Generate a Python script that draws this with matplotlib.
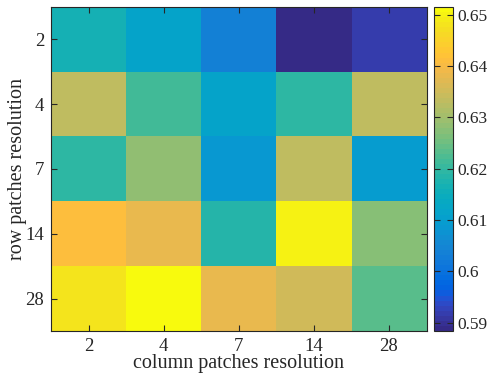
import numpy as np
import matplotlib.pyplot as plt
from matplotlib.colors import ListedColormap, Normalize

# patch resolutions
row_res = ["2", "4", "7", "14", "28"]
col_res = ["2", "4", "7", "14", "28"]

acc_r2 = [0.6165, 0.6116, 0.6037, 0.5884, 0.5919]
acc_r4 = [0.6333, 0.6214, 0.6116, 0.6195, 0.6333]
acc_r7 = [0.6195, 0.6283, 0.6086, 0.6333, 0.6096]
acc_r14 = [0.6412, 0.6382, 0.6185, 0.6500, 0.6269]
acc_r28 = [0.6481, 0.6515, 0.6382, 0.6357, 0.6234]

cbar_ticks = [0.59, 0.60, 0.61, 0.62, 0.63, 0.64, 0.65]
cbar_labels = ["0.59", "0.6", "0.61", "0.62", "0.63", "0.64", "0.65"]

# matlab parula(64)
parula = [
    [0.2081, 0.1663, 0.5292], [0.2116, 0.1898, 0.5777], [0.2123, 0.2138, 0.6270], [0.2081, 0.2386, 0.6771],
    [0.1959, 0.2645, 0.7279], [0.1707, 0.2919, 0.7792], [0.1253, 0.3242, 0.8303], [0.0591, 0.3598, 0.8683],
    [0.0117, 0.3875, 0.8820], [0.0060, 0.4086, 0.8828], [0.0165, 0.4266, 0.8786], [0.0329, 0.4430, 0.8720],
    [0.0498, 0.4586, 0.8641], [0.0629, 0.4737, 0.8554], [0.0723, 0.4887, 0.8467], [0.0779, 0.5040, 0.8384],
    [0.0793, 0.5200, 0.8312], [0.0749, 0.5375, 0.8263], [0.0641, 0.5570, 0.8240], [0.0488, 0.5772, 0.8228],
    [0.0343, 0.5966, 0.8199], [0.0265, 0.6137, 0.8135], [0.0239, 0.6287, 0.8038], [0.0231, 0.6418, 0.7913],
    [0.0228, 0.6535, 0.7768], [0.0267, 0.6642, 0.7607], [0.0384, 0.6743, 0.7436], [0.0590, 0.6838, 0.7254],
    [0.0843, 0.6928, 0.7062], [0.1133, 0.7015, 0.6859], [0.1453, 0.7098, 0.6646], [0.1801, 0.7177, 0.6424],
    [0.2178, 0.7250, 0.6193], [0.2586, 0.7317, 0.5954], [0.3022, 0.7376, 0.5712], [0.3482, 0.7424, 0.5473],
    [0.3953, 0.7459, 0.5244], [0.4420, 0.7481, 0.5033], [0.4871, 0.7491, 0.4840], [0.5300, 0.7491, 0.4661],
    [0.5709, 0.7485, 0.4494], [0.6099, 0.7473, 0.4337], [0.6473, 0.7456, 0.4188], [0.6834, 0.7435, 0.4044],
    [0.7184, 0.7411, 0.3905], [0.7525, 0.7384, 0.3768], [0.7858, 0.7356, 0.3633], [0.8185, 0.7327, 0.3498],
    [0.8507, 0.7299, 0.3360], [0.8824, 0.7274, 0.3217], [0.9139, 0.7258, 0.3063], [0.9450, 0.7261, 0.2886],
    [0.9739, 0.7314, 0.2666], [0.9938, 0.7455, 0.2403], [0.9990, 0.7653, 0.2164], [0.9955, 0.7861, 0.1967],
    [0.9880, 0.8066, 0.1794], [0.9789, 0.8271, 0.1633], [0.9697, 0.8481, 0.1475], [0.9626, 0.8705, 0.1309],
    [0.9589, 0.8949, 0.1132], [0.9598, 0.9218, 0.0948], [0.9661, 0.9514, 0.0755], [0.9763, 0.9831, 0.0538],
]
cmap = ListedColormap(parula)

grid = np.array([acc_r2, acc_r4, acc_r7, acc_r14, acc_r28])
norm = Normalize(vmin=grid.min(), vmax=grid.max())

ink = "#262626"
plt.rcParams["font.family"] = ["Liberation Serif", "DejaVu Serif"]
plt.rcParams["font.size"] = 13
plt.rcParams["text.color"] = ink
plt.rcParams["axes.labelcolor"] = ink
plt.rcParams["xtick.color"] = ink
plt.rcParams["ytick.color"] = ink

fig = plt.figure(figsize=(4.89, 3.76), dpi=100)
ax = fig.add_axes([0.1043, 0.1197, 0.768, 0.8617])
cax = fig.add_axes([0.888, 0.1197, 0.039, 0.8617])

im = ax.imshow(grid, cmap=cmap, norm=norm, aspect="auto", interpolation="nearest")
ax.set_xticks(range(len(col_res)))
ax.set_xticklabels(col_res)
ax.set_yticks(range(len(row_res)))
ax.set_yticklabels(row_res)
ax.tick_params(direction="in", top=True, right=True, length=4, width=0.8, pad=5, labelsize=13.5)
ax.set_xlabel("column patches resolution", fontsize=14.5, labelpad=-1)
ax.set_ylabel("row patches resolution", fontsize=14.5, labelpad=-1)
for s in ax.spines.values():
    s.set_color(ink)
    s.set_linewidth(0.8)

cb = fig.colorbar(im, cax=cax)
cb.set_ticks(cbar_ticks)
cb.set_ticklabels(cbar_labels)
cax.tick_params(direction="in", left=True, right=True, length=4, width=0.8, pad=3, labelsize=12.5)
cb.outline.set_edgecolor(ink)
cb.outline.set_linewidth(0.8)

fig.savefig("out.png", dpi=100)
plt.close(fig)
